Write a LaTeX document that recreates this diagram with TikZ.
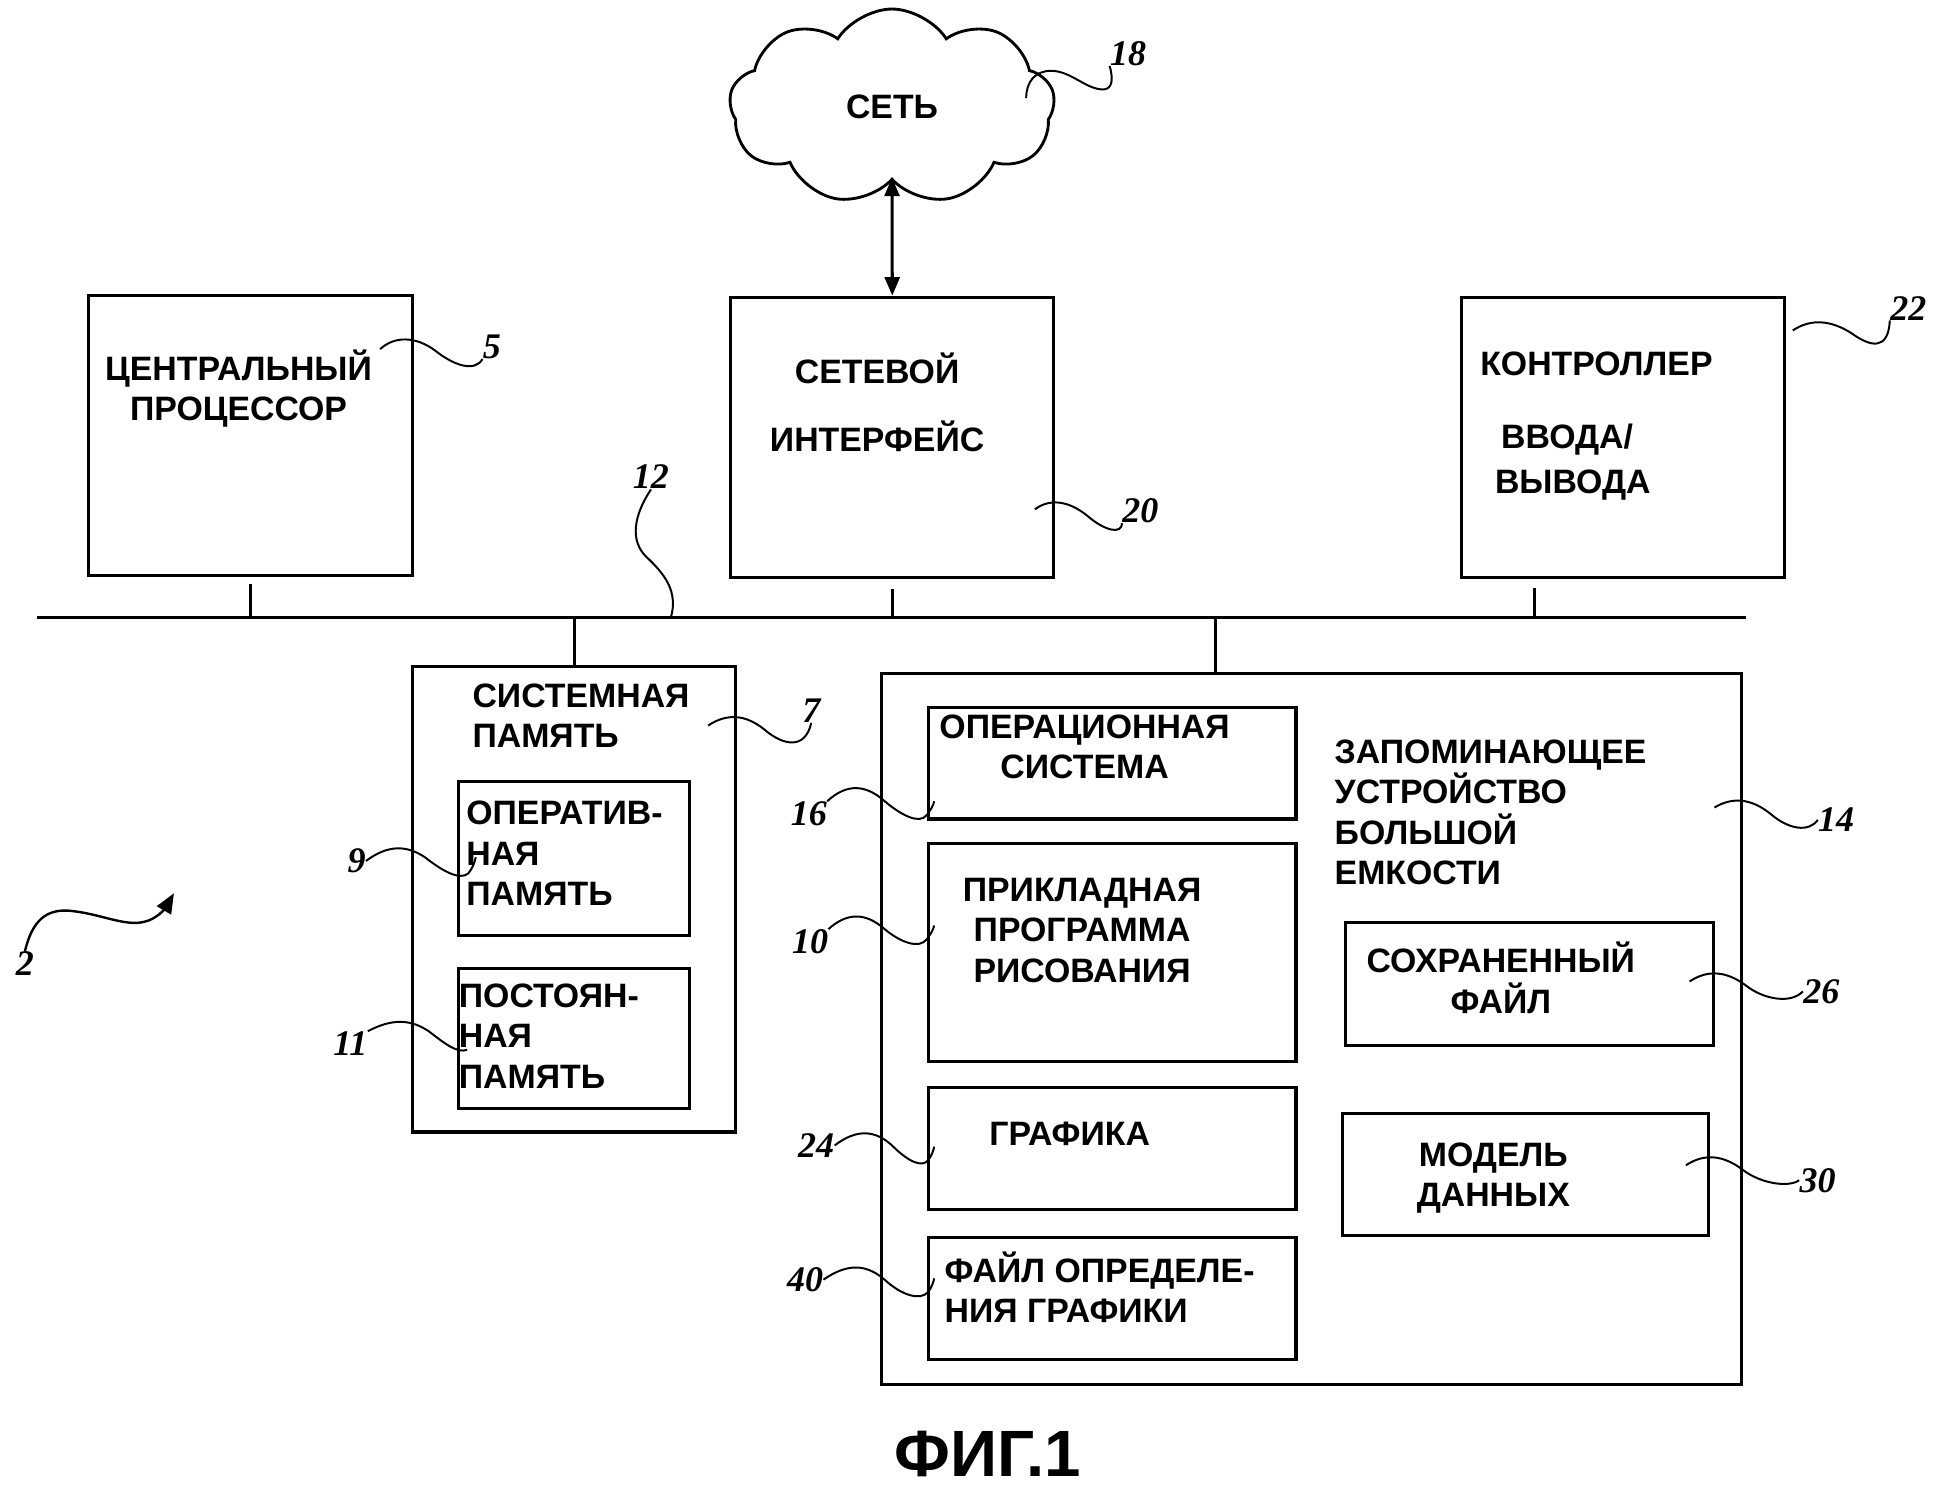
\documentclass[tikz,border=0pt]{standalone}
\usepackage{fontspec}
\setmainfont{Liberation Sans}
\newfontfamily\refnumfont{Liberation Serif}
\usetikzlibrary{positioning, arrows.meta, shapes.symbols}

\begin{document}
\begin{tikzpicture}[
        x=0.02cm, y=-0.02cm,
        block/.style={draw, line width=1.4pt, anchor=north west, inner sep=0pt},
        txt/.style={font=\fontsize{15.5}{18.5}\selectfont\bfseries, inner sep=0pt, align=center},
        txtl/.style={txt, align=left, anchor=west},
        refnum/.style={font=\refnumfont\fontsize{16.5}{18}\selectfont\bfseries\itshape, inner sep=0pt},
        leader/.style={line width=0.9pt},
        bus/.style={line width=1.5pt},
        tap/.style={line width=1.2pt}
    ]
    \useasboundingbox (0,0) rectangle (1568,1199);

    % Network
    \node[cloud, draw, line width=1.3pt, cloud puffs=9, cloud puff arc=115, aspect=1.7,
          minimum width=5.24cm, minimum height=3.15cm, txt] (cloud) at (718,86) {СЕТЬ};

    % Top row
    \node[block, minimum width=5.22cm, minimum height=4.50cm] (cpu) at (70,237) {};
    \node[block, minimum width=5.20cm, minimum height=4.52cm] (net) at (587,238) {};
    \node[block, minimum width=5.20cm, minimum height=4.52cm] (io) at (1175,238) {};
    \node[txt] (cputxt) at (192,313) {ЦЕНТРАЛЬНЫЙ\\ПРОЦЕССОР};
    \node[txt] (nettxt) at (706,324) {СЕТЕВОЙ\\[12.5pt]ИНТЕРФЕЙС};
    \node[txt] (iotxt) at (1285,293) {КОНТРОЛЛЕР};
    \node[txtl] (iotxt2) at (1203,372) {\hspace{0.1cm}ВВОДА/\\[2.5pt]ВЫВОДА};

    % System memory
    \node[block, minimum width=5.20cm, minimum height=7.50cm] (sysmem) at (331,535) {};
    \node[block, minimum width=3.72cm, minimum height=2.48cm] (ram) at (368,628) {};
    \node[block, minimum width=3.72cm, minimum height=2.26cm] (rom) at (368,778) {};
    \node[txtl] (sysmemtxt) at (380,576) {СИСТЕМНАЯ\\ПАМЯТЬ};
    \node[txtl] (ramtxt) at (375,687) {ОПЕРАТИВ-\\НАЯ\\ПАМЯТЬ};
    \node[txtl] (romtxt) at (369,834) {ПОСТОЯН-\\НАЯ\\ПАМЯТЬ};

    % Mass storage
    \node[block, minimum width=13.86cm, minimum height=11.44cm] (mass) at (708,541) {};
    \node[block, minimum width=5.92cm, minimum height=1.80cm] (os) at (746,568) {};
    \node[block, minimum width=5.92cm, minimum height=3.50cm] (app) at (746,678) {};
    \node[block, minimum width=5.92cm, minimum height=1.96cm] (gfx) at (746,874) {};
    \node[block, minimum width=5.92cm, minimum height=1.96cm] (gdef) at (746,995) {};
    \node[block, minimum width=5.92cm, minimum height=1.98cm] (saved) at (1082,741) {};
    \node[block, minimum width=5.90cm, minimum height=1.96cm] (model) at (1079,895) {};
    \node[txtl] (masstxt) at (1074,654) {ЗАПОМИНАЮЩЕЕ\\УСТРОЙСТВО\\БОЛЬШОЙ\\ЕМКОСТИ};
    \node[txt] (ostxt) at (873,601) {ОПЕРАЦИОННАЯ\\СИСТЕМА};
    \node[txt] (apptxt) at (871,749) {ПРИКЛАДНАЯ\\ПРОГРАММА\\РИСОВАНИЯ};
    \node[txt] (gfxtxt) at (861,913) {ГРАФИКА};
    \node[txtl] (gdeftxt) at (760,1036) {ФАЙЛ ОПРЕДЕЛЕ-\\НИЯ ГРАФИКИ};
    \node[txt] (savedtxt) at (1208,787) {СОХРАНЕННЫЙ\\ФАЙЛ};
    \node[txt] (modeltxt) at (1202,948) {МОДЕЛЬ\\ДАННЫХ};

    % Bus
    \coordinate (busL) at (30,497);
    \coordinate (busR) at (1405,497);
    \draw[bus] (busL) -- (busR);
    \draw[tap] ([yshift=-0.12cm]cpu.south) -- (cpu.south |- busL);
    \draw[tap] ([yshift=-0.16cm]net.south) -- (net.south |- busL);
    \draw[tap] ([xshift=-1.42cm, yshift=-0.14cm]io.south) -- ([xshift=-1.42cm]io.south |- busL);
    \draw[tap] (sysmem.north) -- (sysmem.north |- busL);
    \draw[tap] ([xshift=-1.55cm]mass.north) -- ([xshift=-1.55cm]mass.north |- busL);

    % Network link
    \draw[line width=1.4pt, {Triangle[length=0.3cm, width=0.24cm]}-{Triangle[length=0.3cm, width=0.24cm]}]
        ([yshift=0.06cm]cloud.south) -- (net.north);

    % Reference numbers
    \node[refnum] (n18) at (908,43) {18};
    \node[refnum] (n5) at (396,279) {5};
    \node[refnum] (n12) at (524,384) {12};
    \node[refnum] (n20) at (918,411) {20};
    \node[refnum] (n22) at (1536,248) {22};
    \node[refnum] (n7) at (653,572) {7};
    \node[refnum] (n14) at (1478,660) {14};
    \node[refnum] (n26) at (1466,798) {26};
    \node[refnum] (n30) at (1463,950) {30};
    \node[refnum] (n16) at (651,655) {16};
    \node[refnum] (n10) at (652,758) {10};
    \node[refnum] (n24) at (657,922) {24};
    \node[refnum] (n40) at (648,1030) {40};
    \node[refnum] (n9) at (287,693) {9};
    \node[refnum] (n11) at (282,840) {11};
    \node[refnum] (n2) at (20,776) {2};

    % Leaders
    \draw[leader] (826,79) .. controls (826,66) and (833,57) .. (846,57) .. controls (862,57) and (874,72) .. (888,72) .. controls (894,72) and (897,66) .. (n18.south west);
    \draw[leader] (306,281) .. controls (318,270) and (335,271) .. (350,282) .. controls (365,294) and (382,300) .. (n5.south west);
    \draw[leader] (n12.south) .. controls (510,415) and (507,435) .. (520,448) .. controls (535,462) and (546,476) .. (540,497);
    \draw[leader] (833,410) .. controls (845,401) and (860,403) .. (875,415) .. controls (890,428) and (903,430) .. (n20.south west);
    \draw[leader] (1443,266) .. controls (1458,256) and (1474,258) .. (1490,268) .. controls (1505,279) and (1520,283) .. (n22.south west);
    \draw[leader] (570,584) .. controls (585,574) and (600,575) .. (615,587) .. controls (630,600) and (648,604) .. (n7.south);
    \draw[leader] (1380,650) .. controls (1395,641) and (1410,643) .. (1425,655) .. controls (1440,668) and (1456,670) .. (n14.west);
    \draw[leader] (1360,790) .. controls (1375,780) and (1390,782) .. (1405,793) .. controls (1420,805) and (1442,808) .. (n26.west);
    \draw[leader] (1357,938) .. controls (1372,928) and (1387,930) .. (1402,941) .. controls (1417,953) and (1440,956) .. (n30.west);
    \draw[leader] (n16.north east) .. controls (682,630) and (697,632) .. (711,644) .. controls (725,656) and (740,664) .. (746,656) .. controls (749,652) and (751,649) .. (752,645);
    \draw[leader] (n10.north east) .. controls (682,734) and (697,735) .. (711,747) .. controls (725,759) and (740,764) .. (746,756) .. controls (749,752) and (751,749) .. (752,745);
    \draw[leader] (n24.east) .. controls (690,908) and (705,910) .. (718,922) .. controls (731,935) and (742,940) .. (747,934) .. controls (750,930) and (751,927) .. (752,923);
    \draw[leader] (n40.east) .. controls (683,1016) and (698,1018) .. (712,1030) .. controls (726,1043) and (741,1047) .. (747,1040) .. controls (750,1036) and (751,1033) .. (752,1029);
    \draw[leader] (n9.east) .. controls (312,680) and (327,680) .. (342,690) .. controls (356,701) and (370,709) .. (377,703) .. controls (380,699) and (382,695) .. (383,690);
    \draw[leader] (n11.north east) .. controls (315,820) and (330,820) .. (345,830) .. controls (358,840) and (368,848) .. (376,845);
    \draw[line width=1.1pt, -{Triangle[length=0.32cm, width=0.26cm]}] (n2.north) .. controls (26,740) and (38,732) .. (55,733) .. controls (80,735) and (100,746) .. (116,742) .. controls (126,740) and (133,731) .. (140,719);

    % Caption
    \node[font=\fontsize{30}{34}\selectfont\bfseries, inner sep=0pt] (fig) at (795,1170) {ФИГ.1};

    \end{tikzpicture}
\end{document}
